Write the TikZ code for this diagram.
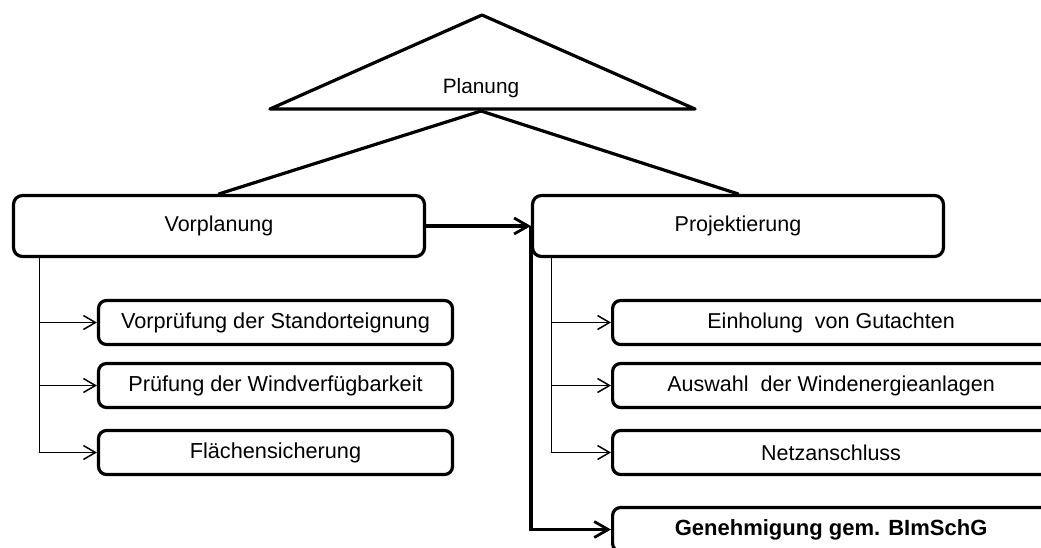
\documentclass[tikz,border=0pt]{standalone}
\usepackage{fontspec}
\setmainfont{Liberation Sans}
\usetikzlibrary{arrows.meta,calc}
\begin{document}
\begin{tikzpicture}[x=1pt,y=-1pt,
  bigbox/.style={draw,line width=3.2pt,rounded corners=9pt,minimum width=411pt,minimum height=61pt,inner sep=0pt,font=\fontsize{21.5}{25}\selectfont},
  subbox/.style={draw,line width=3.2pt,rounded corners=8pt,minimum height=44pt,inner sep=0pt,font=\fontsize{21.7}{25}\selectfont},
  thinarrow/.style={line width=1.5pt,-{Straight Barb[length=12pt,width=14pt,line width=1.5pt]}},
  thickarrow/.style={line width=3.2pt,-{Straight Barb[length=14pt,width=16pt,line width=2.8pt]}},
  thinline/.style={line width=1.5pt},
  thickline/.style={line width=3.2pt,line cap=round,line join=round}]
\useasboundingbox (0,0) rectangle (1041,547);
\begin{scope}
\clip (0,0) rectangle (1041,547);
% triangle
\draw[thickline] (270,109) -- (482,15) -- (695,109) -- cycle;
\node[font=\fontsize{20.8}{24}\selectfont] (planung) at (481,88) {Planung};
\coordinate (pb) at (481,111);
% main boxes
\node[bigbox] (vor) at (219,226) {Vorplanung};
\node[bigbox] (proj) at (738,226) {Projektierung};
\draw[thickline] (pb) -- (vor.north);
\draw[thickline] (pb) -- (proj.north);
% left children
\node[subbox,minimum width=354pt] (v1) at (275.5,322.5) {Vorprüfung der Standorteignung};
\node[subbox,minimum width=354pt] (v2) at (275.5,385.5) {Prüfung der Windverfügbarkeit};
\node[subbox,minimum width=354pt] (v3) at (275.5,452.5) {Flächensicherung};
% right children
\node[subbox,minimum width=437pt,anchor=west,font=\fontsize{21.5}{25}\selectfont] (p1) at (611,322.5) {Einholung\ \ von Gutachten};
\node[subbox,minimum width=437pt,anchor=west,font=\fontsize{21.5}{25}\selectfont] (p2) at (611,385.5) {Auswahl\ \ der Windenergieanlagen};
\node[subbox,minimum width=437pt,anchor=west,font=\fontsize{21.5}{25}\selectfont] (p3) at (611,452.5) {Netzanschluss};
\node[subbox,minimum width=437pt,anchor=west,font=\fontsize{22}{25}\selectfont\bfseries] (p4) at (611,529.5) {Genehmigung gem. BImSchG};
% arrow between main boxes
\draw[thickarrow] (vor.east) -- (proj.west);
% left trunk
\coordinate (lt) at ([xshift=27.5pt]vor.south west);
\draw[thinline] (lt) -- (lt |- v3.west);
\draw[thinarrow] (lt |- v1.west) -- (v1.west);
\draw[thinarrow] (lt |- v2.west) -- (v2.west);
\draw[thinarrow] (lt |- v3.west) -- (v3.west);
% right thin trunk
\coordinate (rt) at ([xshift=20.5pt]proj.south west);
\draw[thinline] (rt) -- (rt |- p3.west);
\draw[thinarrow] (rt |- p1.west) -- (p1.west);
\draw[thinarrow] (rt |- p2.west) -- (p2.west);
\draw[thinarrow] (rt |- p3.west) -- (p3.west);
% right thick trunk
\draw[line width=3.2pt] (proj.west) -- (proj.west |- p4.west);
\draw[thickarrow] ([xshift=-1.6pt]proj.west |- p4.west) -- (p4.west);
\end{scope}
\end{tikzpicture}
\end{document}
